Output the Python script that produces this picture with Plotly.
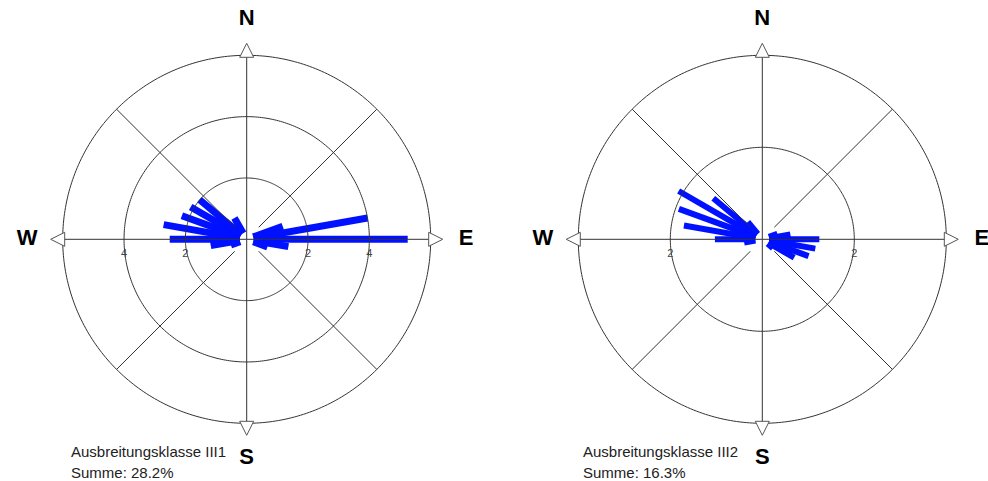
import numpy as np
import plotly.graph_objects as go

# ---------------- data ----------------
dirs_1 = [70, 80, 90, 100, 110, 250, 260, 270, 280, 290, 300, 310, 330]
freq_1 = [1.25, 4.0, 5.25, 1.38, 0.72, 0.55, 1.19, 2.51, 2.75, 2.25, 2.11, 2.01, 0.8]
dirs_2 = [70, 80, 90, 100, 110, 120, 130, 260, 270, 280, 290, 300, 310, 320]
freq_2 = [0.35, 0.62, 1.24, 1.17, 1.07, 0.80, 0.30, 0.40, 1.03, 1.73, 1.93, 2.10, 1.39, 0.49]
rings_1 = [2, 4]
rmax_1 = 6
rings_2 = [2]
rmax_2 = 4
compass_vals = [0, 90, 180, 270]
compass_text = ["N", "E", "S", "W"]
title_1 = "Ausbreitungsklasse III1"
summe_1 = "Summe: 28.2%"
title_2 = "Ausbreitungsklasse III2"
summe_2 = "Summe: 16.3%"

# ---------------- style ----------------
W, H = 988, 481
R_CIRCLE = 184.0          # outer ring radius in px
R_APEX = 196.0            # tip of the compass triangles in px
R_LABEL = 219.5           # compass letters
R_OUT = 224.0             # polar domain radius in px
BAR_COLOR = "#0011ff"
GRID_COLOR = "#333333"
FONT = "Liberation Sans, Arial, sans-serif"

fig = go.Figure()


def add_rose(pid, dirs, freq, rings, rmax, bar_w):
    unit = rmax / R_CIRCLE  # data units per pixel
    r0 = 7 * unit
    # bars
    rr, tt = [], []
    for d, f in zip(dirs, freq):
        rr += [r0, f, None]
        tt += [d, d, None]
    fig.add_trace(go.Scatterpolar(r=rr, theta=tt, mode="lines", subplot=pid,
                                  line=dict(color=BAR_COLOR, width=bar_w),
                                  hoverinfo="skip", showlegend=False))
    # ring grid (on top of bars), including outer circle
    ang = np.linspace(0, 360, 361)
    rr, tt = [], []
    for rv in rings + [rmax]:
        rr += [rv] * len(ang) + [None]
        tt += list(ang) + [None]
    # spokes
    for a in (0, 90):
        rr += [rmax, 0, rmax, None]
        tt += [a, a, a + 180, None]
    d0 = 17 * unit
    for a in (45, 135, 225, 315):
        rr += [d0, rmax, None]
        tt += [a, a, None]
    fig.add_trace(go.Scatterpolar(r=rr, theta=tt, mode="lines", subplot=pid,
                                  line=dict(color=GRID_COLOR, width=1),
                                  hoverinfo="skip", showlegend=False))
    # triangles at cardinal points
    fig.add_trace(go.Scatterpolar(
        r=[R_APEX * unit] * 4, theta=compass_vals, mode="markers", subplot=pid,
        cliponaxis=False,
        marker=dict(symbol=["arrow-up", "arrow-right", "arrow-down", "arrow-left"],
                    size=14, color="white", line=dict(color="#555555", width=1)),
        hoverinfo="skip", showlegend=False))
    # compass letters
    fig.add_trace(go.Scatterpolar(
        r=[R_LABEL * unit] * 4, theta=compass_vals, text=compass_text,
        mode="text", subplot=pid, textposition="middle center", cliponaxis=False,
        textfont=dict(family=FONT, size=22, color="black", weight="bold"),
        hoverinfo="skip", showlegend=False))
    # radial tick labels along W-E axis
    fig.add_trace(go.Scatterpolar(
        r=rings + rings, theta=[270] * len(rings) + [90] * len(rings),
        text=[str(v) for v in rings + rings], mode="markers+text", subplot=pid,
        textposition="bottom center", cliponaxis=False,
        marker=dict(size=13, color="rgba(0,0,0,0)"),
        textfont=dict(family=FONT, size=11, color="#444444"),
        hoverinfo="skip", showlegend=False))


add_rose("polar", dirs_1, freq_1, rings_1, rmax_1, 7)
add_rose("polar2", dirs_2, freq_2, rings_2, rmax_2, 6)


def polar_layout(cx, cy, rmax):
    return dict(
        domain=dict(x=[(cx - R_OUT) / W, (cx + R_OUT) / W],
                    y=[1 - (cy + R_OUT) / H, 1 - (cy - R_OUT) / H]),
        bgcolor="rgba(0,0,0,0)",
        angularaxis=dict(rotation=90, direction="clockwise",
                         showticklabels=False, ticks="",
                         showgrid=False, showline=False),
        radialaxis=dict(range=[0, rmax * R_OUT / R_CIRCLE], visible=False),
    )


fig.update_layout(
    width=W, height=H,
    margin=dict(l=0, r=0, t=0, b=0),
    paper_bgcolor="white",
    plot_bgcolor="white",
    showlegend=False,
    polar=polar_layout(246.7, 239.3, rmax_1),
    polar2=polar_layout(762.3, 239.3, rmax_2),
)

for x0, t, s in ((68.5, title_1, summe_1), (580.5, title_2, summe_2)):
    fig.add_annotation(x=x0 / W, y=1 - 451.5 / H, xref="paper", yref="paper",
                       xanchor="left", yanchor="middle", showarrow=False, text=t,
                       font=dict(family=FONT, size=15, color="#222222"))
    fig.add_annotation(x=x0 / W, y=1 - 472.5 / H, xref="paper", yref="paper",
                       xanchor="left", yanchor="middle", showarrow=False, text=s,
                       font=dict(family=FONT, size=15, color="#222222"))

fig.write_html("out.html", config={"displayModeBar": False},
               post_script="document.body.style.margin='0px';document.body.style.overflow='hidden';")
